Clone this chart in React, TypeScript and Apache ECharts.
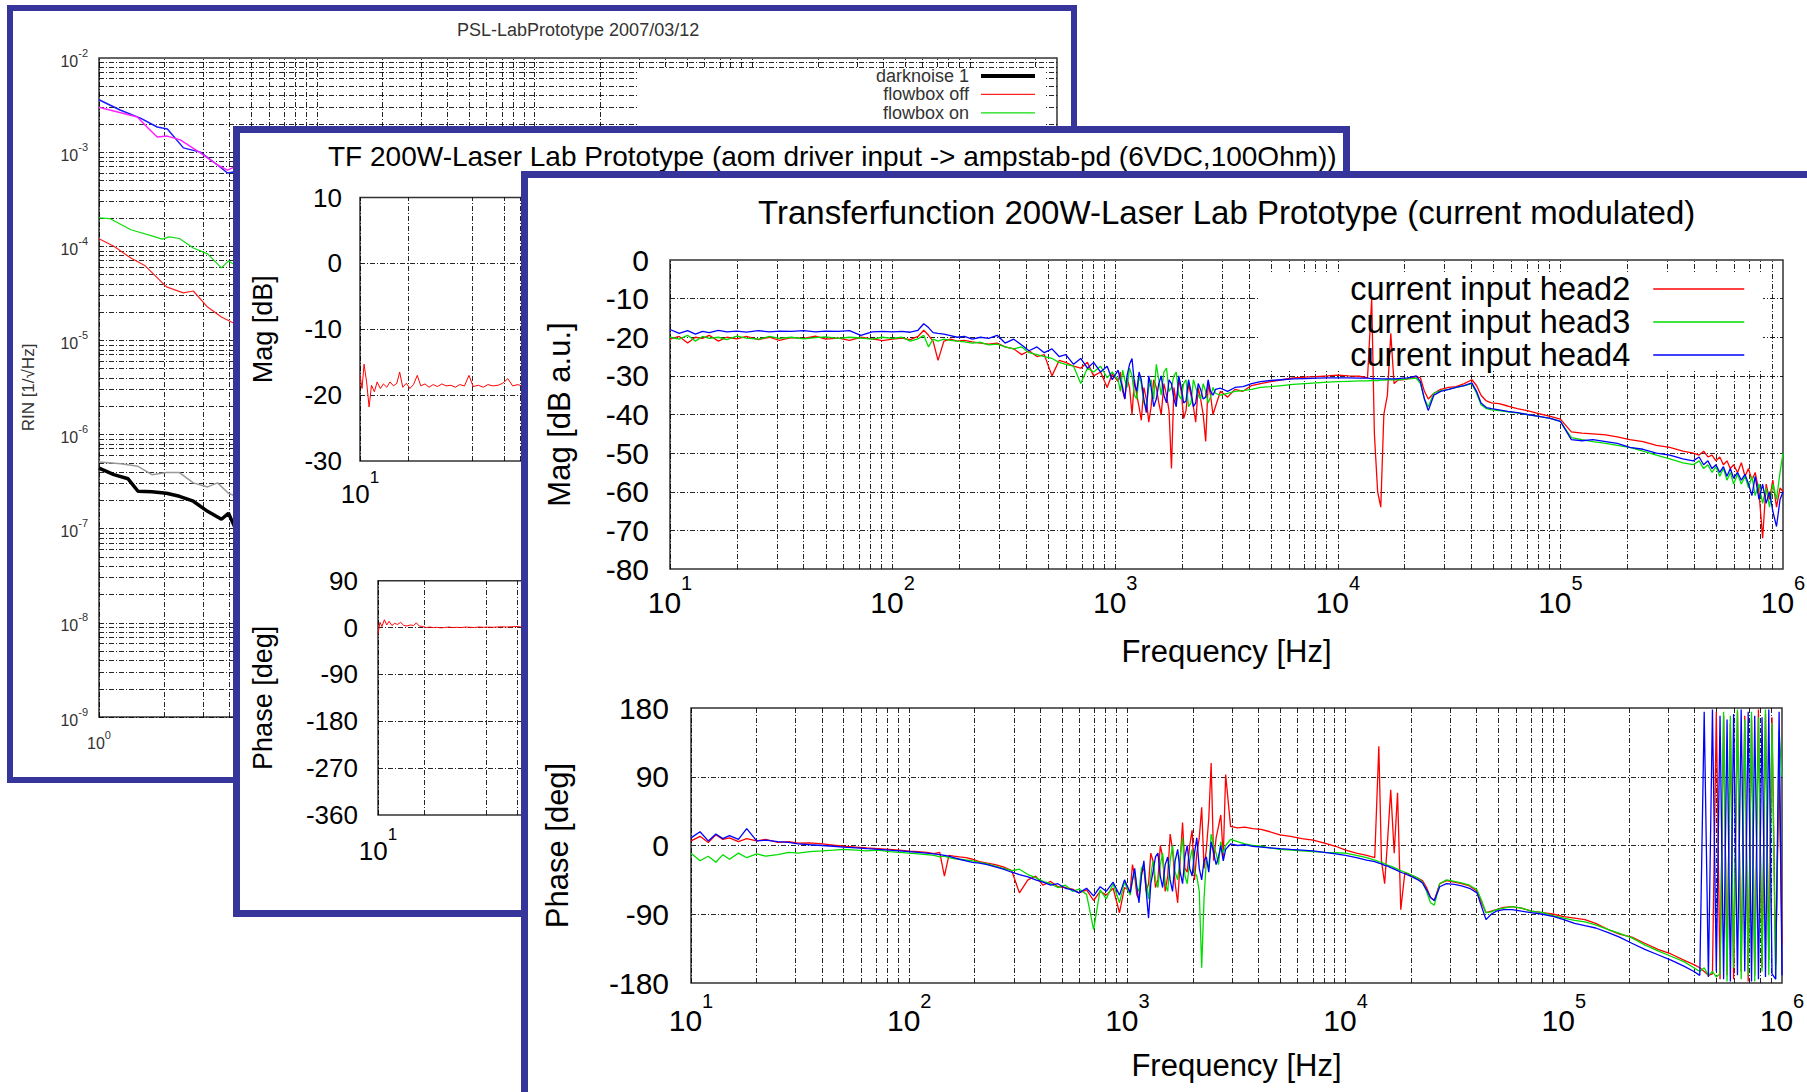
import React, { useEffect, useRef } from "react";
import * as echarts from "echarts";

const FONT = '"Liberation Sans", Arial, Helvetica, sans-serif';
const FRAME_COLOR = "#35359b";

/* ================= Panel 1 (back) : RIN ================= */
const P1_TITLE = "PSL-LabPrototype 2007/03/12";
const P1_YNAME = "RIN [1/\u221AHz]";
const P1_LEGEND = ["darknoise 1", "flowbox off", "flowbox on"];
// [frequency Hz, RIN]
const P1_DARKNOISE_1 = [[1.0, 4.4e-7], [1.17, 3.75e-7], [1.36, 3.39e-7], [1.51, 2.5e-7], [1.75, 2.47e-7], [2.04, 2.38e-7], [2.34, 2.21e-7], [2.71, 1.96e-7], [3.15, 1.53e-7], [3.65, 1.26e-7], [3.93, 1.46e-7], [4.2, 1.04e-7], [4.6, 9.5e-8]];
const P1_FLOWBOX_OFF = [[1.0, 1.2e-4], [1.17, 1.0e-4], [1.4, 7.5e-5], [1.63, 6.2e-5], [2.04, 3.7e-5], [2.44, 3.2e-5], [2.71, 3.35e-5], [3.15, 2.26e-5], [3.65, 1.77e-5], [4.14, 1.53e-5], [4.6, 1.4e-5]];
const P1_FLOWBOX_ON = [[1.0, 2.0e-4], [1.12, 1.97e-4], [1.4, 1.5e-4], [1.75, 1.29e-4], [1.95, 1.19e-4], [2.1, 1.26e-4], [2.34, 1.21e-4], [2.71, 9.6e-5], [3.15, 8.3e-5], [3.65, 5.9e-5], [3.93, 7.0e-5], [4.14, 6.5e-5], [4.6, 6.0e-5]];
const P1_GRAY = [[1.0, 5.1e-7], [1.26, 4.9e-7], [1.51, 4.6e-7], [1.75, 3.75e-7], [2.04, 3.95e-7], [2.34, 3.95e-7], [2.71, 3.07e-7], [3.15, 2.78e-7], [3.5, 3.07e-7], [3.93, 2.38e-7], [4.14, 2.27e-7], [4.6, 2.1e-7]];
const P1_BLUE = [[1.0, 3.6e-3], [1.25, 2.8e-3], [1.55, 2.3e-3], [1.85, 1.85e-3], [2.06, 1.76e-3], [2.44, 1.11e-3], [2.92, 1.0e-3], [3.5, 7.3e-4], [3.89, 6.0e-4], [4.14, 6.15e-4], [4.6, 5.6e-4]];
const P1_MAGENTA = [[1.0, 3.0e-3], [1.5, 2.36e-3], [1.66, 1.85e-3], [1.85, 1.45e-3], [2.06, 1.48e-3], [2.36, 1.35e-3], [2.92, 9.8e-4], [3.5, 7.3e-4], [3.89, 6.45e-4], [4.14, 6.9e-4], [4.6, 6.2e-4]];
const P1_X_RANGE = [1, 25000];
const P1_Y_RANGE = [1e-9, 1e-2];

/* ================= Panel 2 (middle) ================= */
const P2_TITLE = "TF 200W-Laser Lab Prototype (aom driver input -> ampstab-pd (6VDC,100Ohm))";
const P2_MAG_NAME = "Mag [dB]";
const P2_PHASE_NAME = "Phase [deg]";
const P2_FREQ = [10, 10.3, 10.6, 11, 11.4, 11.8, 12.3, 12.8, 13.4, 14,
  14.7, 15.4, 16.2, 17, 17.7, 18.5, 19.5, 20.5, 21.6, 22.8,
  24, 25.5, 27, 28.7, 30.5, 32.5, 34.5, 37, 39.5, 42,
  45, 48, 51, 55, 59, 63, 68, 73, 78, 84,
  90, 97, 105, 113, 122];
const P2_MAG = [-17, -19, -15.3, -18, -21.8, -18.5, -19.5, -18, -19, -18.3,
  -18.8, -18, -18.6, -18.2, -16.5, -18.8, -18.2, -19, -18.4, -17,
  -18.6, -18.3, -18.8, -18.4, -18.7, -18.3, -18.6, -18.5, -18.8, -18.4,
  -18.6, -17, -18.7, -18.5, -18.8, -18.4, -18.6, -18.5, -18.2, -17.5,
  -18.6, -18.4, -18.7, -18.5, -18.3];
const P2_PHASE = [-12, 10, 2, 15, 5, 12, 4, 8, 6, 10,
  4, 3, 5, 4, 9, 3, 2, 0, 1, 0,
  0.5, -0.5, 0, 1, 0, 0.5, 0, 1, 0.5, 0,
  1, 0.5, 1, 0.5, 1, 1.5, 1, 1.5, 2, 1.5,
  2, 4, 2, 2.5, 3];
const P2_X_RANGE = [10, 20000];

/* ================= Panel 3 (front) ================= */
const P3_TITLE = "Transferfunction 200W-Laser Lab Prototype (current modulated)";
const P3_SERIES_NAMES = ["current input head2", "current input head3", "current input head4"];
const P3_COLORS = ["#ff0000", "#00dd00", "#0000ff"];
const P3_MAG_NAME = "Mag [dB a.u.]";
const P3_PHASE_NAME = "Phase [deg]";
const P3_X_NAME = "Frequency [Hz]";
const P3_FREQ = [
  10, 11, 12, 13, 14, 15, 16.5, 18, 20, 22, 25, 28, 31, 35, 40, 45, 50, 57, 64, 72, 81, 90,
  100, 110, 120, 130, 138, 145, 152, 160, 170, 182, 195, 210, 228, 248, 270, 295, 320, 350, 380, 410, 445, 480, 520, 560, 600, 650, 700, 750, 800, 860, 920, 970,
  1030, 1055, 1080, 1105, 1130, 1160, 1190, 1220, 1250, 1280, 1310, 1345, 1380, 1415, 1450, 1490, 1530, 1570, 1610, 1655, 1700, 1745, 1790, 1835, 1880, 1930, 1980, 2030, 2080, 2135, 2190, 2245, 2300, 2360, 2420, 2485, 2550, 2615, 2680, 2750, 2820,
  2970, 3200, 3450, 3750, 4100, 4500, 5000, 5600, 6300, 7100, 8000, 9000,
  10000, 11200, 12500, 13600, 14200, 14600, 15100, 15600, 16100, 16700, 17300, 17900, 18700, 19500,
  20500, 21500, 22500, 23500, 24500, 25500, 27000, 29000, 31500, 34000, 37000, 40000, 42000, 44000, 46500, 49000,
  53000, 58000, 64000, 71000, 80000, 90000, 100000, 112000, 125000, 140000, 160000, 180000, 205000, 235000, 270000, 310000, 355000, 395000,
  420000, 440000, 460000, 480000, 500000, 520000, 540000, 560000, 580000, 600000, 625000, 650000, 675000, 700000, 725000, 750000, 780000, 810000, 840000, 870000, 900000, 935000, 970000, 1000000];
const MAG_HEAD2 = [
  -20.5, -19.8, -21.5, -20, -20.3, -19.5, -21, -20, -20.4, -19.8, -20.6, -20, -20.8, -20.1, -20.3, -19.7, -20.5, -20.2, -20.8, -20, -20.4, -20.9,
  -20.5, -20.2, -20.6, -19.8, -18.2, -19.5, -21, -26, -21, -20.5, -21, -20.8, -21.2, -21.5, -21.8, -21.5, -22.5, -23, -24.5, -23.5, -25, -24.5, -30, -26, -26.5, -27.5, -28, -26.5, -30, -29, -33, -29.5,
  -31.5, -29, -34, -36, -30.5, -33, -40, -31, -35, -38, -41.5, -33, -36, -42, -38, -31, -33, -37, -40, -32, -35, -39, -54, -33, -37, -31, -34, -41, -39, -32, -35, -38, -42, -33, -36, -40, -47, -32, -35, -40, -38,
  -34, -35.5, -33.5, -34, -32.5, -32, -31.5, -31, -30.5, -30.3, -30.2, -30,
  -29.8, -30, -30.1, -30.5, -10, -45, -60, -64, -40, -35, -19, -32, -31, -31,
  -30.8, -30.5, -30.2, -30.5, -34, -36, -34.5, -33.5, -33, -32.8, -32, -31, -32.5, -35, -36.5, -37,
  -37.2, -37.8, -38.5, -39, -39.8, -40.5, -41.2, -44.5, -44.8, -45, -45.3, -45.8, -46.5, -47, -48, -48.5, -49.5, -50,
  -50.5, -49.5, -51, -50.5, -52, -51, -53, -52, -54, -53, -55, -52.5, -56, -54, -57, -55, -60, -72, -58, -62, -57, -64, -59, -60];
const MAG_HEAD3 = [
  -20, -20.5, -19.5, -21, -19.8, -20.3, -20, -20.6, -19.7, -20.2, -20.5, -19.8, -20.3, -20, -20.4, -20.1, -19.9, -20.3, -20, -20.2, -20.5, -20,
  -20.3, -20, -21, -20.4, -19.5, -22.5, -20.5, -21, -20.5, -20.8, -21, -21.2, -21.5, -21.3, -22, -21.8, -22.5, -23, -22.5, -24, -24.5, -25, -25.5, -26.5, -27, -27.5, -32, -28, -29, -27.5, -30.5, -29,
  -31, -34, -28.5, -31, -33, -28, -30, -35, -36, -30, -32, -37, -38, -33, -31, -36, -27, -31, -35, -29, -28, -34, -33, -30, -29, -35, -36, -32, -31, -38, -37, -31, -33, -35, -36, -32, -34, -37, -35.5, -33, -34.5,
  -35, -34.5, -34, -33.8, -33.5, -33, -32.8, -32.5, -32.2, -32, -31.8, -31.6,
  -31.5, -31.4, -31.3, -31.3, -31.2, -31.2, -31.2, -31.1, -31.1, -31, -31, -31, -31, -30.9,
  -30.8, -30.7, -30.6, -32, -36, -38, -34.5, -33.8, -33.5, -33, -32.5, -32, -34.5, -37.5, -38.5, -38.8,
  -39, -39.3, -39.6, -40, -40.5, -41, -41.8, -46, -46.5, -47, -47.5, -48, -48.5, -49.5, -50.5, -51.5, -52.5, -53,
  -52, -54, -53, -55, -53.5, -56, -54, -57, -55, -58, -55.5, -58, -56, -59, -56, -61, -58, -63, -59, -64, -58, -62, -55, -50];
const MAG_HEAD4 = [
  -18, -19, -18.3, -19.2, -18.5, -18.8, -18.2, -18.6, -18.4, -18.7, -18.3, -18.6, -18.4, -18.5, -18.3, -18.6, -18.4, -18.5, -18.3, -19.5, -18.6, -18.5,
  -18.6, -18.5, -18.7, -18.2, -16.5, -17.5, -18.8, -19, -19.2, -19.6, -20, -19.8, -20.5, -20, -20.3, -19.5, -21.5, -20.5, -22, -23.5, -22.5, -24, -23, -25, -24.5, -27, -25.5, -28, -26.5, -29, -27.5, -31,
  -28.5, -31, -33, -36, -30, -27, -25.5, -32, -34, -29, -31, -36, -39.5, -30, -33, -38, -36, -32, -30, -35, -37, -31, -32, -36, -38, -30, -33, -37, -36.5, -31, -34, -38, -37, -32, -33.5, -36, -35.5, -31, -34, -35, -33.5,
  -33.2, -34, -33, -32.8, -32, -31.5, -31.2, -31, -30.8, -30.7, -30.6, -30.5,
  -30.5, -30.5, -30.6, -30.6, -30.7, -30.7, -30.7, -30.8, -30.8, -30.8, -30.8, -30.8, -30.7, -30.6,
  -30.5, -30.3, -30, -31.5, -36, -39, -35, -34, -33.5, -33, -32.5, -31.8, -34, -37, -38.2, -38.5,
  -38.8, -39.2, -39.5, -40, -40.5, -41, -41.8, -46.5, -46.8, -46.5, -47, -47.5, -48.5, -49, -50, -50.5, -51.5, -52,
  -51, -53, -52, -54, -53, -55, -53.5, -56, -54, -56.5, -55, -57, -55.5, -58, -61, -56, -62, -58, -63, -60, -65, -69, -62, -60];
const PHASE_HEAD2 = [
  6, 12, 4, 14, 8, 10, 5, 9, 6, 8, 4, 5, 3, 3.5, 2, 0.5, -1, -2, -3, -4, -5, -6,
  -7.5, -8, -9, -10.5, -9, -40, -13, -14, -15, -16, -18, -21, -23, -25, -28, -33, -62, -45, -40, -52, -47, -54, -55, -57, -62, -58, -72, -60, -65, -56, -88, -55,
  -60, -25, -40, -65, -70, -35, -30, -60, -50, -10, -20, -55, -45, 0, -15, -60, -40, 15, -5, -50, -75, -20, 30, -30, -35, 0, 20, -45, -10, 10, 50, -30, -5, 35, 108, -20, 10, 25, 40, -15, 93,
  25, 23, 24, 22, 21, 18, 14, 12, 9, 7, 3, -1,
  -6, -10, -13, -16, 130, -20, -50, 10, 73, -10, 69, -84, -35, -38,
  -40, -43, -46, -55, -68, -72, -50, -46, -48, -50, -53, -60, -75, -88, -86, -84,
  -81, -80, -82, -86, -88, -90, -93, -95, -97, -102, -110, -116, -120, -128, -136, -142, -150, -156,
  -160, -165, -170, -168, 175, -175, 170, -170, 160, -175, 175, -165, 170, -178, 165, -170, 178, -160, 172, -150, 168, -155, 100, -130];
const PHASE_HEAD3 = [
  -10, -20, -14, -22, -12, -18, -10, -16, -11, -14, -12, -9, -10, -8, -7, -6, -5, -6, -7, -6, -8, -9,
  -10, -11, -12, -13, -15, -14, -16, -17, -18, -19, -20, -22, -24, -27, -30, -33, -31, -38, -42, -47, -50, -55, -52, -60, -57, -64, -110, -58, -70, -50, -75, -48,
  -65, -45, -35, -55, -60, -30, -25, -50, -70, -40, -20, -45, -55, -25, -10, -50, -60, -20, 0, -35, -45, -15, 10, -40, -50, -20, -5, -35, -40, -60, -160, -70, -20, -30, 15, 0, -10, -25, 5, -10, 0,
  8, 5, 2, 0, -1, -3, -5, -6, -7, -8, -9, -9.5,
  -10, -13, -16, -19, -21, -22, -24, -26, -27, -29, -31, -33, -35, -37,
  -40, -43, -48, -60, -75, -78, -50, -45, -47, -49, -52, -58, -72, -88, -87, -84,
  -82, -80, -82, -86, -88, -92, -95, -98, -100, -104, -110, -115, -121, -130, -138, -145, -152, -160,
  -165, -160, -170, -165, -172, -168, 175, -178, 170, -160, 178, -175, 165, -170, 175, -178, 168, -165, 178, -170, 160, -175, 150, 90];
const PHASE_HEAD4 = [
  10, 18, 6, 15, 9, 13, 8, 22, 6, 7, 5, 4, 2, 1, 0, -1, -2, -3, -4, -5, -6, -7,
  -8, -9, -10, -11, -12, -13, -14, -16, -18, -20, -22, -23, -25, -28, -31, -35, -38, -41, -45, -48, -52, -50, -56, -58, -62, -56, -66, -54, -60, -48, -65, -45,
  -62, -45, -30, -55, -75, -40, -20, -60, -95, -50, -35, -15, -10, -40, -55, -25, -15, -45, -60, -20, -5, -35, -50, -15, 0, -30, -40, -10, 10, -30, -45, -20, -15, -35, 5, -10, -25, -15, 0, -20, -5,
  2, 0, 1, -1, -2, -3, -4, -5, -6, -7, -9, -11,
  -13, -16, -19, -21, -23, -24, -26, -27, -29, -31, -33, -35, -37, -39,
  -42, -45, -49, -58, -68, -72, -54, -50, -51, -53, -56, -62, -80, -97, -90, -86,
  -84, -84, -86, -88, -90, -93, -97, -102, -105, -108, -114, -120, -128, -136, -143, -150, -158, -165,
  -170, 175, -172, 178, -165, 170, -175, 165, -178, 172, -170, 178, -165, 175, -178, 170, -175, 168, -172, 178, -168, -175, 175, -170];
const P3_X_RANGE = [10, 1000000];

/* ================= helpers ================= */
const lg = (v: number) => Math.log10(v);
const toLogLog = (pts: number[][]) => pts.map(([f, v]) => [lg(f), lg(v)]);
const toLogX = (freq: number[], vals: number[]) => freq.map((f, i) => [lg(f), vals[i]]);

// positions of k * 10^n gridlines (log space)
const logGridLines = (lo: number, hi: number, ks: number[]) => {
  const out: number[] = [];
  for (let n = Math.floor(lo); n < Math.ceil(hi); n++) {
    for (const k of ks) {
      const p = n + lg(k);
      if (p >= lo - 1e-9 && p <= hi + 1e-9) out.push(p);
    }
  }
  return out;
};

const GRID_DASH = [5, 2, 1, 2];
const gridLineSeries = (xi: number, xs: number[], ys: number[]) => ({
  type: "line",
  xAxisIndex: xi,
  yAxisIndex: xi,
  data: [],
  z: 1,
  silent: true,
  markLine: {
    z: 1,
    silent: true,
    animation: false,
    symbol: ["none", "none"],
    label: { show: false },
    emphasis: { disabled: true },
    lineStyle: { color: "#000", width: 1, type: GRID_DASH, opacity: 0.85 },
    data: [...xs.map((x) => ({ xAxis: x })), ...ys.map((y) => ({ yAxis: y }))],
  },
});

const powRich = (size: number, lh: number, color: string) => ({
  b: { fontSize: size, lineHeight: lh, fontFamily: FONT, color, verticalAlign: "bottom" },
  s: { fontSize: Math.round(size * 0.66), lineHeight: Math.round(size * 0.66), fontFamily: FONT, color, verticalAlign: "top" },
});
const powFormatter = (visible: (e: number) => boolean) => (v: number) => {
  const r = Math.round(v);
  if (Math.abs(v - r) > 1e-6 || !visible(r)) return "";
  return `{b|10}{s|${r}}`;
};

const lineSeries = (name: string | undefined, data: number[][], color: string, width: number, xi: number) => ({
  type: "line",
  name,
  data,
  xAxisIndex: xi,
  yAxisIndex: xi,
  symbol: "none",
  z: 3,
  silent: true,
  lineStyle: { color, width },
  itemStyle: { color },
  emphasis: { disabled: true },
});

const gridBox = (left: number, top: number, width: number, height: number) => ({
  left, top, width, height, show: true, borderColor: "#333", borderWidth: 1.5, backgroundColor: "transparent",
});

/* ================= panel geometry ================= */
const P1_BOX = { left: 7, top: 5, width: 1070, height: 778, border: 6 };
const P2_BOX = { left: 233, top: 126, width: 1117, height: 791, border: 7 };
const P3_BOX = { left: 521, top: 171, width: 1300, height: 940, border: 7 };

function panel1Option() {
  const xMin = lg(P1_X_RANGE[0]), xMax = lg(P1_X_RANGE[1]);
  const yMin = lg(P1_Y_RANGE[0]), yMax = lg(P1_Y_RANGE[1]);
  const xs = logGridLines(xMin, xMax, [1, 2, 3, 4, 5, 6, 7, 8, 9]);
  const ys = logGridLines(yMin, yMax, [1, 2, 3, 4, 5, 6, 7, 8, 9]);
  return {
    animation: false,
    title: {
      text: P1_TITLE, left: 450, top: 15, padding: 0,
      textStyle: { fontSize: 18, lineHeight: 20, fontWeight: "normal", fontFamily: FONT, color: "#333" },
    },
    legend: {
      data: [
        { name: P1_LEGEND[0], lineStyle: { width: 4 } },
        { name: P1_LEGEND[1], lineStyle: { width: 1.3 } },
        { name: P1_LEGEND[2], lineStyle: { width: 1.3 } },
      ],
      orient: "vertical", align: "right", right: 40, top: 61.8, padding: 0,
      itemWidth: 54, itemHeight: 10, itemGap: 0, selectedMode: false, z: 5,
      itemStyle: { opacity: 0 },
      textStyle: { fontSize: 18, lineHeight: 18.4, fontFamily: FONT, color: "#333", padding: [0, 7, 0, 0] },
    },
    grid: [gridBox(92, 53, 958, 659)],
    xAxis: [{
      type: "value", min: xMin, max: xMax, interval: 1,
      axisLine: { show: false }, axisTick: { show: false }, splitLine: { show: false },
      axisLabel: { margin: 12, formatter: powFormatter((e) => e === 0), rich: powRich(16, 22, "#333") },
    }],
    yAxis: [{
      type: "value", min: yMin, max: yMax, interval: 1,
      name: P1_YNAME, nameLocation: "middle", nameGap: 62,
      nameTextStyle: { fontSize: 17, fontFamily: FONT, color: "#333" },
      axisLine: { show: false }, axisTick: { show: false }, splitLine: { show: false },
      axisLabel: { margin: 11, formatter: powFormatter(() => true), rich: powRich(16, 22, "#333") },
    }],
    graphic: [{ type: "rect", z: 2, silent: true, shape: { x: 631, y: 63, width: 407, height: 300 }, style: { fill: "#fff" } }],
    series: [
      gridLineSeries(0, xs, ys),
      lineSeries(undefined, toLogLog(P1_GRAY), "#999999", 1.5, 0),
      lineSeries(undefined, toLogLog(P1_BLUE), "#1a1aff", 1.5, 0),
      lineSeries(undefined, toLogLog(P1_MAGENTA), "#ff22ff", 1.5, 0),
      lineSeries(P1_LEGEND[1], toLogLog(P1_FLOWBOX_OFF), "#ff2020", 1.2, 0),
      lineSeries(P1_LEGEND[2], toLogLog(P1_FLOWBOX_ON), "#11dd11", 1.2, 0),
      lineSeries(P1_LEGEND[0], toLogLog(P1_DARKNOISE_1), "#000000", 3.5, 0),
    ],
  };
}

function panel2Option() {
  const xMin = lg(P2_X_RANGE[0]), xMax = lg(P2_X_RANGE[1]);
  const xs = logGridLines(xMin, xMax, [1, 2, 5, 8]);
  const xAxisBase = (gi: number, margin: number) => ({
    gridIndex: gi, type: "value", min: xMin, max: xMax, interval: 1,
    axisLine: { show: false }, axisTick: { show: false }, splitLine: { show: false },
    axisLabel: { margin, formatter: powFormatter((e) => e === 1), rich: powRich(26, 38, "#000") },
  });
  const yLabel = { fontSize: 26, fontFamily: FONT, color: "#000" };
  return {
    animation: false,
    title: {
      text: P2_TITLE, left: 95, top: 14, padding: 0,
      textStyle: { fontSize: 28, lineHeight: 32, fontWeight: "normal", fontFamily: FONT, color: "#000" },
    },
    grid: [gridBox(127, 71.5, 528, 263.5), gridBox(145, 454.7, 510, 234.3)],
    xAxis: [xAxisBase(0, 8), xAxisBase(1, 11)],
    yAxis: [
      {
        gridIndex: 0, type: "value", min: -30, max: 10, interval: 10,
        name: P2_MAG_NAME, nameLocation: "middle", nameGap: 84,
        nameTextStyle: { fontSize: 27, fontFamily: FONT, color: "#000" },
        axisLine: { show: false }, axisTick: { show: false }, splitLine: { show: false },
        axisLabel: { ...yLabel, margin: 18 },
      },
      {
        gridIndex: 1, type: "value", min: -360, max: 90, interval: 90,
        name: P2_PHASE_NAME, nameLocation: "middle", nameGap: 102,
        nameTextStyle: { fontSize: 27, fontFamily: FONT, color: "#000" },
        axisLine: { show: false }, axisTick: { show: false }, splitLine: { show: false },
        axisLabel: { ...yLabel, margin: 20 },
      },
    ],
    series: [
      gridLineSeries(0, xs, [-20, -10, 0]),
      gridLineSeries(1, xs, [-270, -180, -90, 0]),
      lineSeries(undefined, toLogX(P2_FREQ, P2_MAG), "#ff0000", 1, 0),
      lineSeries(undefined, toLogX(P2_FREQ, P2_PHASE), "#ff0000", 1, 1),
    ],
  };
}

function panel3Option() {
  const xMin = lg(P3_X_RANGE[0]), xMax = lg(P3_X_RANGE[1]);
  const xs = logGridLines(xMin, xMax, [1, 2, 3, 4, 5, 6, 7, 8, 9]);
  const xAxisBase = (gi: number, margin: number) => ({
    gridIndex: gi, type: "value", min: xMin, max: xMax, interval: 1,
    name: P3_X_NAME, nameLocation: "middle", nameGap: 67,
    nameTextStyle: { fontSize: 31, fontFamily: FONT, color: "#000" },
    axisLine: { show: false }, axisTick: { show: false }, splitLine: { show: false },
    axisLabel: { margin, formatter: powFormatter(() => true), rich: powRich(30, 44, "#000") },
  });
  const yLabel = { fontSize: 30, fontFamily: FONT, color: "#000" };
  const mags = [MAG_HEAD2, MAG_HEAD3, MAG_HEAD4];
  const phases = [PHASE_HEAD2, PHASE_HEAD3, PHASE_HEAD4];
  return {
    animation: false,
    title: {
      text: P3_TITLE, left: 237, top: 23, padding: 0,
      textStyle: { fontSize: 33, lineHeight: 36, fontWeight: "normal", fontFamily: FONT, color: "#000" },
    },
    legend: {
      data: P3_SERIES_NAMES, orient: "vertical", align: "right", right: P3_BOX.width - 1224, top: 101.5, padding: 0,
      itemWidth: 91, itemHeight: 14, itemGap: 0, selectedMode: false, z: 5,
      itemStyle: { opacity: 0 },
      lineStyle: { width: 1.5 },
      textStyle: { fontSize: 32.5, lineHeight: 33, fontFamily: FONT, color: "#000", padding: [0, 18, 0, 0] },
    },
    grid: [gridBox(149, 89, 1113, 309), gridBox(170, 537, 1091, 275)],
    xAxis: [xAxisBase(0, 4), xAxisBase(1, 8)],
    yAxis: [
      {
        gridIndex: 0, type: "value", min: -80, max: 0, interval: 10,
        name: P3_MAG_NAME, nameLocation: "middle", nameGap: 95,
        nameTextStyle: { fontSize: 31, fontFamily: FONT, color: "#000" },
        axisLine: { show: false }, axisTick: { show: false }, splitLine: { show: false },
        axisLabel: { ...yLabel, margin: 21 },
      },
      {
        gridIndex: 1, type: "value", min: -180, max: 180, interval: 90,
        name: P3_PHASE_NAME, nameLocation: "middle", nameGap: 118,
        nameTextStyle: { fontSize: 31, fontFamily: FONT, color: "#000" },
        axisLine: { show: false }, axisTick: { show: false }, splitLine: { show: false },
        axisLabel: { ...yLabel, margin: 22 },
      },
    ],
    graphic: [{ type: "rect", z: 2, silent: true, shape: { x: 738, y: 102, width: 504, height: 97 }, style: { fill: "#fff" } }],
    series: [
      gridLineSeries(0, xs, [-70, -60, -50, -40, -30, -20, -10]),
      gridLineSeries(1, xs, [-90, 0, 90]),
      ...mags.map((m, i) => lineSeries(P3_SERIES_NAMES[i], toLogX(P3_FREQ, m), P3_COLORS[i], 1.3, 0)),
      ...phases.map((p, i) => lineSeries(P3_SERIES_NAMES[i], toLogX(P3_FREQ, p), P3_COLORS[i], 1.3, 1)),
    ],
  };
}

type Box = { left: number; top: number; width: number; height: number; border: number };

function Panel({ box, chartRef }: { box: Box; chartRef: React.RefObject<HTMLDivElement | null> }) {
  return (
    <div style={{ position: "absolute", left: box.left, top: box.top, width: box.width, height: box.height, background: "#fff" }}>
      <div ref={chartRef} style={{ position: "absolute", left: 0, top: 0, width: box.width, height: box.height }} />
      <div
        style={{
          position: "absolute", left: 0, top: 0, width: box.width, height: box.height,
          boxSizing: "border-box", border: `${box.border}px solid ${FRAME_COLOR}`, pointerEvents: "none",
        }}
      />
    </div>
  );
}

export default function App() {
  const r1 = useRef<HTMLDivElement>(null);
  const r2 = useRef<HTMLDivElement>(null);
  const r3 = useRef<HTMLDivElement>(null);
  useEffect(() => {
    const defs: [React.RefObject<HTMLDivElement | null>, any][] = [
      [r1, panel1Option()],
      [r2, panel2Option()],
      [r3, panel3Option()],
    ];
    const charts = defs.map(([ref, opt]) => {
      const c = echarts.init(ref.current as HTMLDivElement, undefined, { renderer: "svg" });
      c.setOption(opt);
      return c;
    });
    return () => charts.forEach((c) => c.dispose());
  }, []);
  return (
    <div style={{ position: "absolute", left: 0, top: 0, width: 1807, height: 1092, overflow: "hidden", background: "#fff", fontFamily: FONT }}>
      <Panel box={P1_BOX} chartRef={r1} />
      <Panel box={P2_BOX} chartRef={r2} />
      <Panel box={P3_BOX} chartRef={r3} />
    </div>
  );
}
